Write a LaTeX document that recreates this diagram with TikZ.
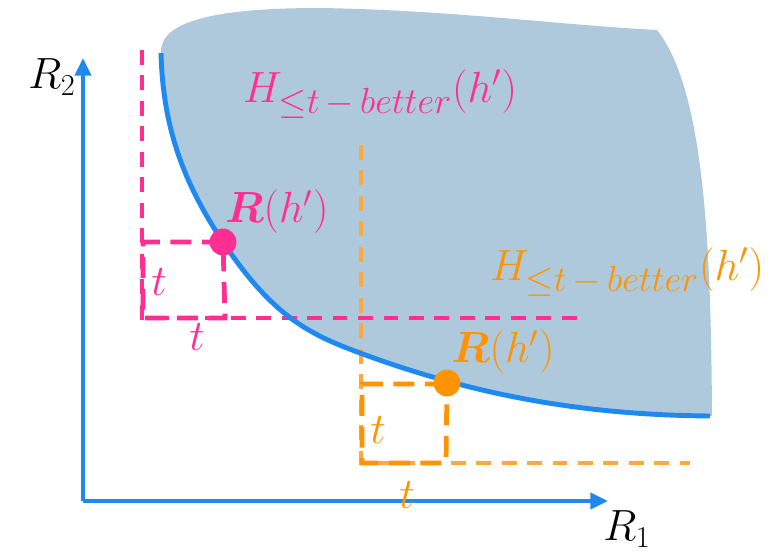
\documentclass[tikz,border=0pt]{standalone}
\usepackage{amsmath,bm}
\usetikzlibrary{arrows.meta}
\definecolor{regionfill}{HTML}{AFC9DC}
\definecolor{curveblue}{HTML}{1E8AF0}
\definecolor{pinkc}{HTML}{FF2E93}
\definecolor{orangec}{HTML}{FF9400}
\definecolor{orangel}{HTML}{FFA93A}
\newcommand{\tbetter}{\mbox{\fontsize{22}{24}\selectfont${\le}t\,{-}\,better$}}
\tikzset{
  axis/.style={curveblue, line width=2.8pt, -{Triangle[length=10pt,width=9pt]}},
  longdash/.style={line width=1.9pt, dash pattern=on 8.5pt off 6pt},
  boxdash/.style={line width=2.7pt, dash pattern=on 12pt off 6pt},
  lbl/.style={inner sep=0pt, font=\fontsize{27}{32}\selectfont},
  dot/.style={circle, inner sep=0pt, minimum size=15.3pt},
}
\begin{document}
\begin{tikzpicture}[x=0.02cm,y=-0.02cm]
\useasboundingbox (0,0) rectangle (782,555);
\coordinate (c0) at (161,53);
\coordinate (c1) at (223,242);
\coordinate (c2) at (360,353);
\coordinate (c3) at (710,416);
% shaded region
\fill[regionfill] (c0) .. controls (163,130) and (185,185) .. (c1)
  .. controls (273,317) and (310,334.5) .. (c2)
  .. controls (480,397.4) and (590,415) .. (c3)
  -- (712,416) .. controls (711,250) and (705,90) .. (657,30)
  .. controls (560,25) and (450,10) .. (320,8)
  .. controls (220,8) and (159,20) .. (c0) -- cycle;
% long dashed lines
\coordinate (pv0) at (142,50);
\coordinate (pc) at (142,318);
\coordinate (ph1) at (587,318);
\coordinate (ov0) at (361,145);
\coordinate (oc) at (361,463);
\coordinate (oh1) at (690,463);
\draw[longdash, pinkc] (pv0) -- (pc) -- (ph1);
\draw[longdash, orangel] (ov0) -- (oc) -- (oh1);
% axes
\coordinate (O) at (83,501);
\coordinate (ytip) at (83,58);
\coordinate (xtip) at (608,501);
\draw[axis] (O) -- (ytip);
\draw[axis] (O) -- (xtip);
% blue front curve
\draw[curveblue, line width=2.8pt] (c0) .. controls (163,130) and (185,185) .. (c1)
  .. controls (273,317) and (310,334.5) .. (c2)
  .. controls (480,397.4) and (590,415) .. (c3);
% dots
\node[dot, fill=pinkc] (pd) at (223,242) {};
\node[dot, fill=orangec] (od) at (447,383) {};
% dashed squares
\coordinate (pb1) at (143,242);
\coordinate (pb2) at (143,318);
\coordinate (pb3) at (225,318);
\draw[boxdash, pinkc] (pd.center) -- (pb1) -- (pb2) -- (pb3) -- (pd.center);
\coordinate (ob1) at (362,384);
\coordinate (ob2) at (362,463);
\coordinate (ob3) at (446,463);
\draw[boxdash, orangec] (446,384) -- (ob1) -- (ob2) -- (ob3) -- (od.center);
% labels
\node[lbl] (r2) at (52,77) {$R_2$};
\node[lbl] (r1) at (627,529) {$R_1$};
\node[lbl, text=pinkc] (hp) at (380,94) {$H_{\tbetter}(h')$};
\node[lbl, text=orangec] (ho) at (627,272) {$H_{\tbetter}(h')$};
\node[lbl, text=pinkc] (rp) at (277,212) {$\bm{R}(h')$};
\node[lbl, text=orangec] (ro) at (503,352) {$\bm{R}(h')$};
\node[lbl, text=pinkc] (tp1) at (159,282) {$t$};
\node[lbl, text=pinkc] (tp2) at (197,337) {$t$};
\node[lbl, text=orangec] (to1) at (378,430) {$t$};
\node[lbl, text=orangec] (to2) at (407,495) {$t$};
\end{tikzpicture}
\end{document}
